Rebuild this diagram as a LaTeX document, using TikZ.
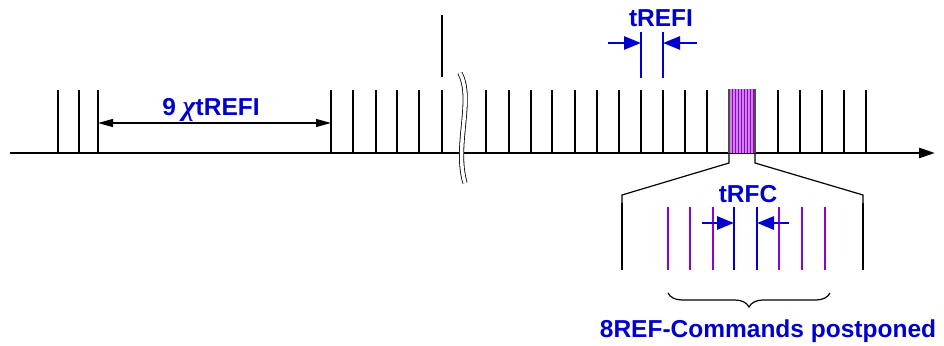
\documentclass[tikz,border=0pt]{standalone}
\usepackage{fontspec}
\setmainfont{Liberation Sans}
\newfontfamily\symf{Liberation Serif}
\usetikzlibrary{arrows.meta,decorations.pathreplacing}
\definecolor{dblue}{RGB}{0,0,204}
\definecolor{dpurple}{RGB}{150,0,205}
\definecolor{lpurple}{RGB}{205,130,235}
\begin{document}
\begin{tikzpicture}[x=1pt,y=-1pt,
  tickline/.style={line width=1.2pt,black},
  purpleline/.style={line width=1.2pt,dpurple},
  blueline/.style={line width=1.2pt,dblue},
  thickbar/.style={line width=2.6pt,black},
  bluedim/.style={line width=2.8pt,dblue,-{Triangle[length=17pt,width=13pt]}},
  blabel/.style={text=dblue,font=\bfseries\fontsize{24.5}{24.5}\selectfont,inner sep=0pt,anchor=base}]
\useasboundingbox (0,0) rectangle (944,345);
% axis
\coordinate (a0) at (10,153);
\coordinate (a1) at (935,153);
\draw[line width=2.6pt,-{Triangle[length=16pt,width=10pt]}] (a0) -- (a1);
% regular ticks
\foreach \x in {58,79,98,331,353,376,397,419,442,486,509,531,552,575,597,619,641,663,685,707,778,800,822,844,866}
  \draw[tickline] (\x,90) -- (\x,153);
\draw[tickline] (442,15) -- (442,77);
% break marker
\draw[line width=0.8pt,double=white,double distance=3.5pt]
  (460,73) .. controls (474,100) and (454,145) .. (465,183);
% postponed refresh cluster
\fill[lpurple] (729,89) rectangle (755,153);
\foreach \x in {732,735,738,741,744,747,750,753}
  \draw[purpleline,line width=0.8pt] (\x,89) -- (\x,153);
\draw[line width=1.2pt,black!70] (729,89) -- (729,153);
\draw[line width=1.2pt,black!70] (755,89) -- (755,153);
% zoom connectors
\coordinate (cl) at (729,153);
\coordinate (cr) at (755,153);
\coordinate (zl) at (622,203);
\coordinate (zr) at (863,203);
\draw[line width=1.2pt] (cl) -- (729,163) -- (622,195) -- (zl);
\draw[line width=1.2pt] (cr) -- (755,163) -- (863,195) -- (zr);
\draw[thickbar] (zl) -- (622,270);
\draw[thickbar] (zr) -- (863,270);
% expanded lines
\foreach \x in {668,690,713,779,802,825}
  \draw[purpleline] (\x,207) -- (\x,270);
\foreach \x in {734,757}
  \draw[blueline] (\x,207) -- (\x,270);
% tRFC
\coordinate (rf1) at (734,223);
\coordinate (rf2) at (757,223);
\draw[bluedim] (702,223) -- (rf1);
\draw[bluedim] (789,223) -- (rf2);
\node[blabel] (trfc) at (748,202) {tRFC};
% tREFI
\draw[blueline] (641,32) -- (641,78);
\draw[blueline] (663,32) -- (663,78);
\coordinate (re1) at (641,43);
\coordinate (re2) at (663,43);
\draw[bluedim] (608,43) -- (re1);
\draw[bluedim] (697,43) -- (re2);
\node[blabel] (trefi) at (661,27) {tREFI};
% 9 x tREFI
\coordinate (d1) at (98,123);
\coordinate (d2) at (331,123);
\draw[line width=1.2pt,{Triangle[length=15pt,width=8pt]}-{Triangle[length=15pt,width=8pt]}] (d1) -- (d2);
\node[blabel] (nine) at (211,115) {9 {\symf\itshape\fontsize{28}{28}\selectfont χ}tREFI};
% brace
\draw[line width=1.2pt,decorate,decoration={brace,amplitude=14pt}] (830,293) -- (668,293);
\node[blabel] (postp) at (768,337) {8REF-Commands postponed};
\end{tikzpicture}
\end{document}
